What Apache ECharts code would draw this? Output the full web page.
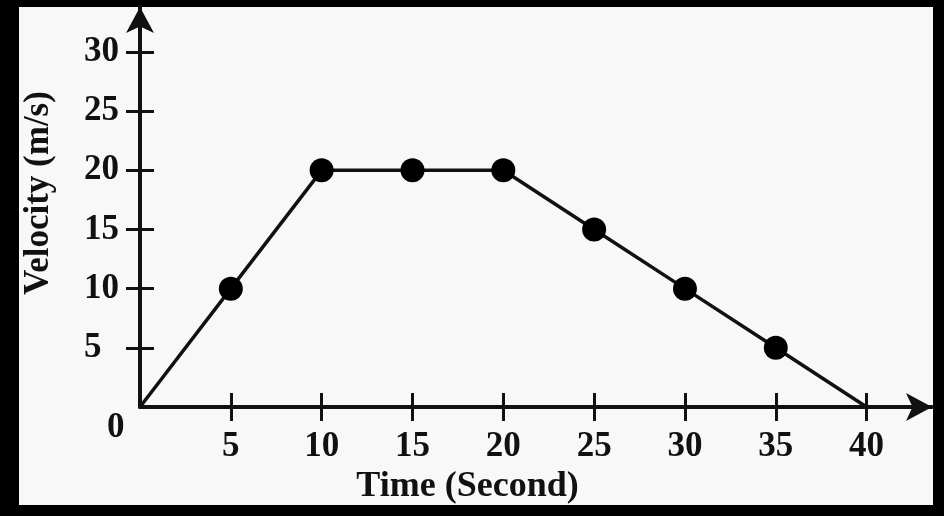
<!DOCTYPE html>
<html>
<head>
<meta charset="utf-8">
<script src="https://cdn.jsdelivr.net/npm/echarts@6/dist/echarts.min.js"></script>
<style>
html,body{margin:0;padding:0;background:#000;width:944px;height:516px;overflow:hidden;}
#panel{position:absolute;left:19px;top:7px;width:914px;height:498px;background:#f8f8f8;}
#chart{position:absolute;left:0;top:0;width:944px;height:516px;}
</style>
</head>
<body>
<div id="panel"></div>
<div id="chart"></div>
<script>
const timeValues = [0, 5, 10, 15, 20, 25, 30, 35, 40];
const velocityValues = [0, 10, 20, 20, 20, 15, 10, 5, 0];
const xTickValues = [5, 10, 15, 20, 25, 30, 35, 40];
const yTickValues = [5, 10, 15, 20, 25, 30];
const xAxisTitle = 'Time (Second)';
const yAxisTitle = 'Velocity (m/s)';

const font = 'Liberation Serif';
const ink = '#111';

const seriesData = timeValues.map((t, i) => {
  const p = { value: [t, velocityValues[i]] };
  if (i === 0 || i === timeValues.length - 1) p.symbol = 'none';
  return p;
});

const chart = echarts.init(document.getElementById('chart'), null, { renderer: 'canvas' });
chart.setOption({
  animation: false,
  backgroundColor: 'transparent',
  grid: { left: 140, top: 7, right: 12, bottom: 109, containLabel: false },
  xAxis: [
    {
      type: 'value', min: 0, max: 43.6, position: 'bottom',
      axisLine: { onZero: false, lineStyle: { color: ink, width: 4 }, symbol: ['none', 'arrow'], symbolSize: [21, 26] },
      axisTick: { show: true, length: 14, lineStyle: { color: ink, width: 3 }, customValues: xTickValues },
      axisLabel: { margin: 22, color: ink, fontFamily: font, fontWeight: 'bold', fontSize: 35, customValues: xTickValues },
      splitLine: { show: false },
      name: xAxisTitle, nameLocation: 'middle', nameGap: 61,
      nameTextStyle: { color: ink, fontFamily: font, fontWeight: 'bold', fontSize: 36, padding: [0, 137, 0, 0] }
    },
    {
      type: 'value', min: 0, max: 43.6, position: 'bottom',
      axisLine: { show: false, onZero: false },
      axisTick: { show: true, inside: true, length: 14, lineStyle: { color: ink, width: 3 }, customValues: xTickValues },
      axisLabel: { show: false },
      splitLine: { show: false }
    }
  ],
  yAxis: [
    {
      type: 'value', min: 0, max: 33.8, position: 'left',
      axisLine: { onZero: false, lineStyle: { color: ink, width: 4 }, symbol: ['none', 'arrow'], symbolSize: [21, 26] },
      axisTick: { show: true, length: 14, lineStyle: { color: ink, width: 3 }, customValues: yTickValues },
      axisLabel: {
        margin: 56, align: 'left', color: ink, fontFamily: font, fontWeight: 'bold', fontSize: 35,
        customValues: [0].concat(yTickValues),
        formatter: v => v === 0 ? '{z|0}' : String(v),
        rich: { z: { fontFamily: font, fontWeight: 'bold', fontSize: 35, color: ink, padding: [42, 0, 0, 23] } }
      },
      splitLine: { show: false },
      name: yAxisTitle, nameLocation: 'middle', nameGap: 84,
      nameTextStyle: { color: ink, fontFamily: font, fontWeight: 'bold', fontSize: 35, padding: [0, 0, 0, 28] }
    },
    {
      type: 'value', min: 0, max: 33.8, position: 'left',
      axisLine: { show: false, onZero: false },
      axisTick: { show: true, inside: true, length: 14, lineStyle: { color: ink, width: 3 }, customValues: yTickValues },
      axisLabel: { show: false },
      splitLine: { show: false }
    }
  ],
  series: [{
    type: 'line',
    data: seriesData,
    symbol: 'circle',
    symbolSize: 24,
    showAllSymbol: true,
    lineStyle: { color: ink, width: 3.5 },
    itemStyle: { color: '#000' },
    z: 5
  }]
});
</script>
</body>
</html>
